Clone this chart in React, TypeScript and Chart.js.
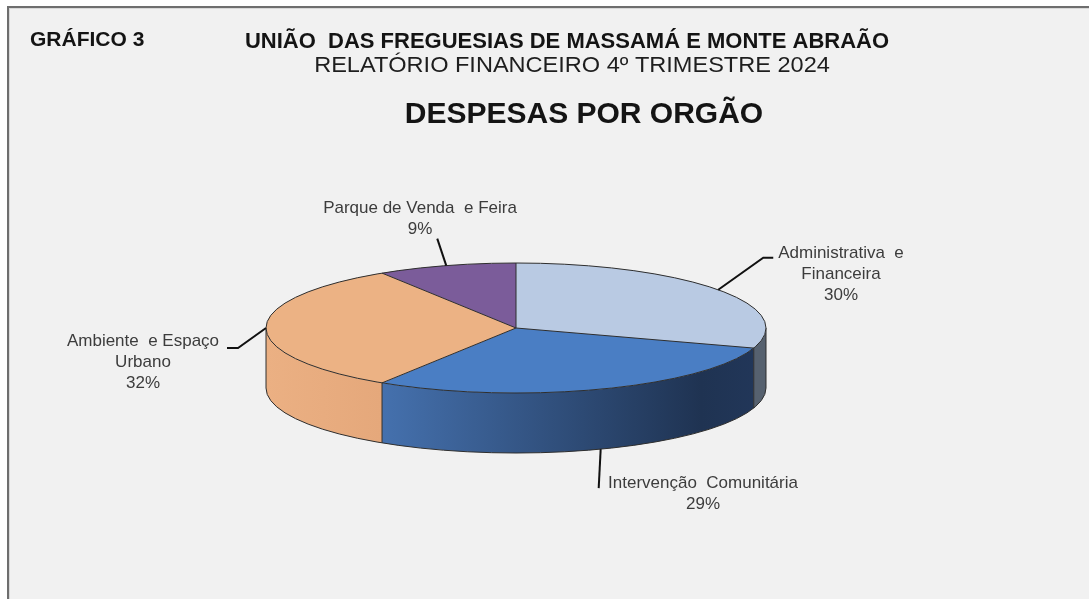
import React, { useEffect, useRef } from "react";
import { Chart, registerables } from "chart.js";

Chart.register(...registerables);

// ---------- data ----------
const categories = [
  "Administrativa e Financeira",
  "Intervenção Comunitária",
  "Ambiente e Espaço Urbano",
  "Parque de Venda e Feira",
];
const shares = [30, 29, 32, 9];
const percentLabels = ["30%", "29%", "32%", "9%"];
const labelLines = [
  ["Administrativa  e", "Financeira"],
  ["Intervenção  Comunitária"],
  ["Ambiente  e Espaço", "Urbano"],
  ["Parque de Venda  e Feira"],
];
const chartLabel = "GRÁFICO 3";
const titleLine1 = "UNIÃO  DAS FREGUESIAS DE MASSAMÁ E MONTE ABRAÃO";
const titleLine2 = "RELATÓRIO FINANCEIRO 4º TRIMESTRE 2024";
const titleMain = "DESPESAS POR ORGÃO";

// ---------- styles ----------
const topColors = ["#b9cae3", "#4a7ec4", "#ecb284", "#7b5c9a"];
const sideStops: [number, string][][] = [
  [[0, "#56616f"], [1, "#56616f"]],
  [[0.23, "#4571ae"], [0.87, "#1f3352"], [1, "#22375a"]],
  [[0, "#ebb083"], [0.23, "#e5a87b"]],
  [[0, "#6c4f8a"], [1, "#6c4f8a"]],
];
const W = 1089;
const H = 599;
const CX = 516;
const CY = 328;
const RX = 250;
const RY = 65;
const DEPTH = 60;
const FONT = "'Liberation Sans', Arial, sans-serif";

// leader layout per slice: elbow/end offsets relative to anchor, text centre
const leaderLayout = [
  { pts: [[45, -32], [55, -32]], tx: 841, ty: 253, bottom: false },
  { pts: [[-2, 39]], tx: 703, ty: 483, bottom: true },
  { pts: [[-28, 20], [-39, 20]], tx: 143, ty: 341, bottom: false },
  { pts: [[-9, -27]], tx: 420, ty: 208, bottom: false },
];

function txt(
  ctx: CanvasRenderingContext2D,
  s: string,
  x: number,
  y: number,
  font: string,
  color: string,
  align: CanvasTextAlign,
  sx = 1
) {
  ctx.save();
  ctx.font = font;
  ctx.fillStyle = color;
  ctx.textAlign = align;
  ctx.textBaseline = "middle";
  ctx.translate(x, y);
  ctx.scale(sx, 1);
  ctx.fillText(s, 0, 0);
  ctx.restore();
}

function arcGeom(chart: any) {
  const meta = chart.getDatasetMeta(0);
  return meta.data.map((el: any) => {
    const p = el.getProps(["x", "y", "startAngle", "endAngle", "outerRadius"], true);
    return p;
  });
}

const pie3d = {
  id: "pie3d",
  beforeDraw(chart: any) {
    const ctx: CanvasRenderingContext2D = chart.ctx;
    ctx.save();
    ctx.fillStyle = "#ffffff";
    ctx.fillRect(0, 0, W, H);
    // panel
    ctx.fillStyle = "#f1f1f1";
    ctx.fillRect(8, 7, W - 8, H - 7);
    ctx.fillStyle = "#6e6e6e";
    ctx.fillRect(7, 6, W - 7, 2);
    ctx.fillRect(7, 6, 2, H - 6);
    ctx.fillStyle = "#d8d8d8";
    ctx.fillRect(9, 8, W - 9, 1);
    ctx.fillRect(9, 8, 1, H - 8);
    ctx.restore();

    txt(ctx, chartLabel, 30, 40, `bold 21px ${FONT}`, "#141414", "left");
    txt(ctx, titleLine1, 567, 42, `bold 22px ${FONT}`, "#141414", "center");
    txt(ctx, titleLine2, 572, 66, `22px ${FONT}`, "#1e1e1e", "center", 1.07);
    txt(ctx, titleMain, 584, 115, `bold 30px ${FONT}`, "#141414", "center");
  },
  beforeDatasetsDraw(chart: any) {
    const ctx: CanvasRenderingContext2D = chart.ctx;
    const arcs = arcGeom(chart);
    if (!arcs.length) return;
    const cx = arcs[0].x;
    const cy = arcs[0].y;
    const rx = arcs[0].outerRadius;
    const ry = rx * (RY / RX);
    ctx.save();
    arcs.forEach((a: any, i: number) => {
      const s = Math.max(a.startAngle, 0);
      const e = Math.min(a.endAngle, Math.PI);
      if (s >= e) return;
      ctx.beginPath();
      ctx.ellipse(cx, cy, rx, ry, 0, s, e);
      ctx.lineTo(cx + rx * Math.cos(e), cy + DEPTH + ry * Math.sin(e));
      ctx.ellipse(cx, cy + DEPTH, rx, ry, 0, e, s, true);
      ctx.closePath();
      const g = ctx.createLinearGradient(cx - rx, 0, cx + rx, 0);
      sideStops[i].forEach(([t, c]) => g.addColorStop(t, c));
      ctx.fillStyle = g;
      ctx.fill();
    });
    // side outlines
    ctx.strokeStyle = "#2e2e2e";
    ctx.lineWidth = 1;
    ctx.beginPath();
    ctx.ellipse(cx, cy + DEPTH, rx, ry, 0, 0, Math.PI);
    ctx.stroke();
    ctx.beginPath();
    ctx.moveTo(cx + rx, cy);
    ctx.lineTo(cx + rx, cy + DEPTH);
    ctx.moveTo(cx - rx, cy);
    ctx.lineTo(cx - rx, cy + DEPTH);
    arcs.forEach((a: any) => {
      const ang = a.endAngle;
      if (ang > 0 && ang < Math.PI) {
        const x = cx + rx * Math.cos(ang);
        const y = cy + ry * Math.sin(ang);
        ctx.moveTo(x, y);
        ctx.lineTo(x, y + DEPTH);
      }
    });
    ctx.stroke();
    ctx.restore();

    // squash the top faces into an ellipse
    ctx.save();
    ctx.translate(cx, cy);
    ctx.scale(1, ry / rx);
    ctx.translate(-cx, -cy);
  },
  afterDatasetsDraw(chart: any) {
    const ctx: CanvasRenderingContext2D = chart.ctx;
    ctx.restore();
    const arcs = arcGeom(chart);
    if (!arcs.length) return;
    const cx = arcs[0].x;
    const cy = arcs[0].y;
    const rx = arcs[0].outerRadius;
    const ry = rx * (RY / RX);
    ctx.save();
    ctx.strokeStyle = "#2e2e2e";
    ctx.lineWidth = 1;
    ctx.beginPath();
    ctx.ellipse(cx, cy, rx, ry, 0, 0, Math.PI * 2);
    arcs.forEach((a: any) => {
      ctx.moveTo(cx, cy);
      ctx.lineTo(cx + rx * Math.cos(a.startAngle), cy + ry * Math.sin(a.startAngle));
    });
    ctx.stroke();

    // leader lines + labels
    arcs.forEach((a: any, i: number) => {
      const mid = (a.startAngle + a.endAngle) / 2;
      const L = leaderLayout[i];
      const ax = cx + rx * Math.cos(mid);
      const ay = cy + ry * Math.sin(mid) + (L.bottom ? DEPTH : 0);
      ctx.beginPath();
      ctx.moveTo(ax, ay);
      L.pts.forEach(([dx, dy]) => ctx.lineTo(ax + dx, ay + dy));
      ctx.strokeStyle = "#111111";
      ctx.lineWidth = 2;
      ctx.stroke();
      const lines = [...labelLines[i], percentLabels[i]];
      lines.forEach((ln, k) => {
        txt(ctx, ln, L.tx, L.ty + k * 21, `17px ${FONT}`, "#3c3c3c", "center");
      });
    });
    ctx.restore();
  },
};

export default function App() {
  const ref = useRef<HTMLCanvasElement | null>(null);
  useEffect(() => {
    if (!ref.current) return;
    const chart = new Chart(ref.current, {
      type: "pie",
      data: {
        labels: categories,
        datasets: [
          {
            data: shares,
            backgroundColor: topColors,
            borderWidth: 0,
            clip: false as any,
          },
        ],
      },
      options: {
        responsive: false,
        animation: false,
        radius: RX,
        events: [],
        layout: { padding: { left: 0, right: W - 2 * CX, top: 2 * CY - H, bottom: 0 } },
        plugins: {
          legend: { display: false },
          tooltip: { enabled: false },
          title: { display: false },
        },
      } as any,
      plugins: [pie3d],
    });
    return () => chart.destroy();
  }, []);
  return (
    <div style={{ position: "fixed", left: 0, top: 0, width: W, height: H }}>
      <canvas ref={ref} width={W} height={H} style={{ width: W, height: H, display: "block" }} />
    </div>
  );
}
